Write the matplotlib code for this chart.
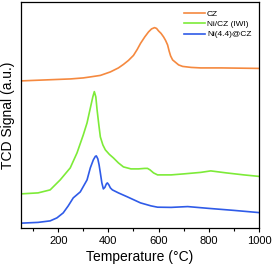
import matplotlib.pyplot as plt
import numpy as np

plt.rcParams['font.family'] = ['Liberation Sans', 'DejaVu Sans']

# Temperatures (deg C) and signals (a.u.)
t_cz = [50, 150, 250, 300, 328, 368, 408, 440, 460, 480, 500, 515, 528, 545, 560, 572, 584, 592, 600, 610, 620, 628, 636, 642, 648, 656, 668, 680, 696, 730, 768, 850, 1000]
s_cz = [147, 148, 149, 150, 151, 152.5, 156, 160, 163.5, 167.5, 172.5, 178.5, 184.5, 191, 196, 199, 200.3, 199.5, 197, 194.5, 191, 187.5, 183, 177, 172, 168, 165.5, 163, 161.5, 160.5, 160, 160, 159.5]

t_ni_iwi = [50, 120, 168, 208, 248, 275, 300, 315, 330, 338, 344, 350, 355, 362, 368, 378, 388, 404, 420, 440, 460, 490, 520, 545, 556, 566, 580, 596, 650, 700, 768, 808, 870, 940, 1000]
s_ni_iwi = [34, 35, 38, 48, 60, 75, 93, 105, 122, 131, 136.3, 131, 118, 103, 91, 83, 78, 73.5, 70, 65, 61, 59, 59, 59.5, 59.5, 58, 55, 53, 53, 54, 55.5, 57, 55, 53, 51.5]

t_ni_cz = [50, 120, 168, 195, 220, 240, 260, 288, 315, 328, 340, 348, 352, 358, 363, 368, 374, 380, 386, 392, 396, 402, 408, 416, 440, 476, 528, 570, 596, 650, 716, 800, 900, 1000]
s_ni_cz = [4.7, 5.5, 7, 10, 15, 22, 30, 36, 48, 60, 68, 71.5, 72, 69, 63, 55, 45, 39, 40.5, 44, 45, 43, 40, 38, 35, 31, 25, 22, 20.7, 20.5, 21.3, 19.5, 17.5, 15.3]

names = ['CZ', 'Ni/CZ (IWI)', 'Ni(4.4)@CZ']
colors = ['#F5893F', '#7DEB38', '#2F5BE8']

fig = plt.figure(figsize=(2.74, 2.70), dpi=100)
ax = fig.add_axes([0.075, 0.156, 0.87, 0.835])

ax.plot(t_cz, s_cz, color=colors[0], lw=1.2, label=names[0])
ax.plot(t_ni_iwi, s_ni_iwi, color=colors[1], lw=1.2, label=names[1])
ax.plot(t_ni_cz, s_ni_cz, color=colors[2], lw=1.2, label=names[2])

ax.set_xlim(50, 1000)
ax.set_ylim(0, 225.5)
ax.set_xticks([200, 400, 600, 800, 1000])
ax.set_xticks(np.arange(100, 1001, 100), minor=True)
ax.set_yticks([])
ax.tick_params(axis='x', which='major', direction='out', length=3, width=0.8, labelsize=8, pad=3)
ax.tick_params(axis='x', which='minor', direction='out', length=1.8, width=0.8)
for sp in ax.spines.values():
    sp.set_linewidth(0.9)

ax.set_xlabel('Temperature (°C)', fontsize=10, labelpad=3)
ax.set_ylabel('TCD Signal (a.u.)', fontsize=10, labelpad=4)

ax.legend(loc='upper right', frameon=False, fontsize=6, handlelength=2.6,
          handletextpad=0.2, labelspacing=0.3, borderaxespad=0.5)

fig.savefig('out.png', dpi=100)
